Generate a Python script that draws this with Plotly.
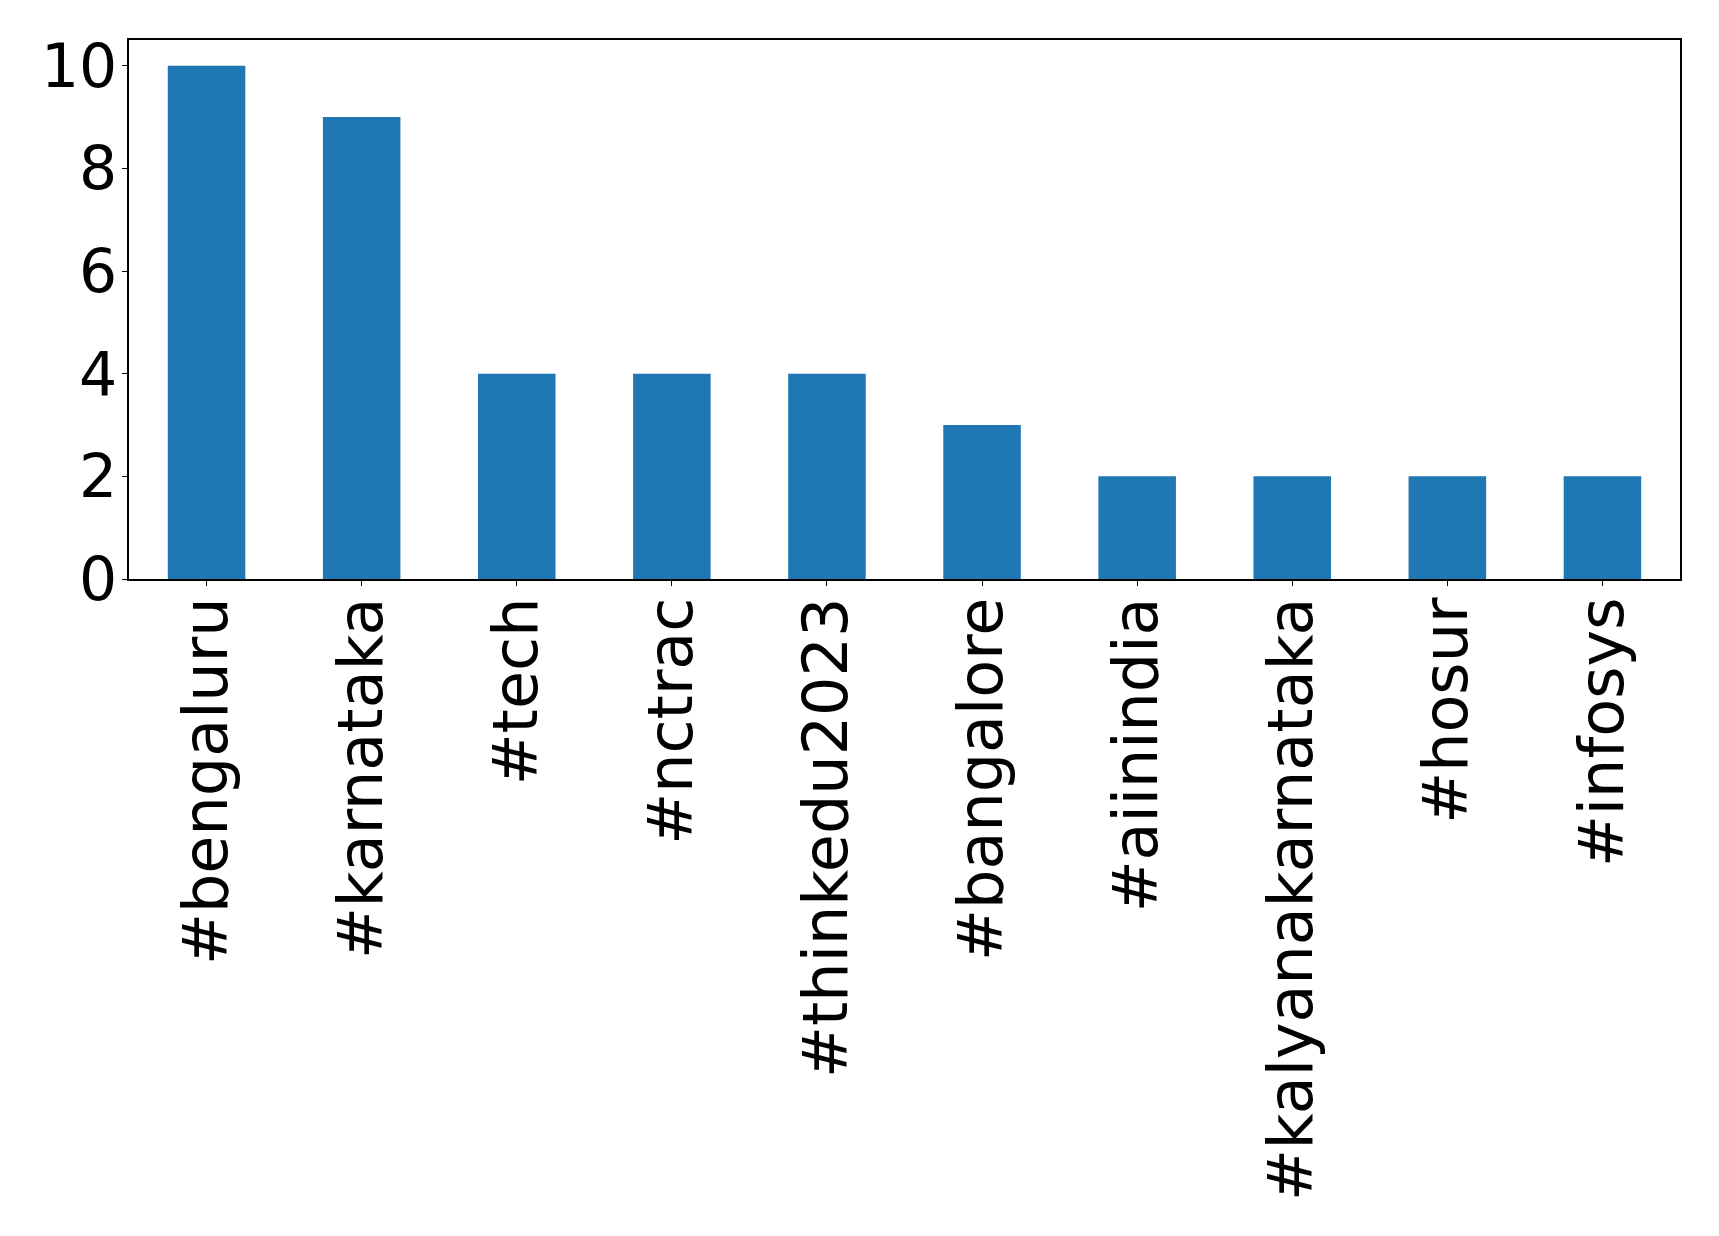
import plotly.graph_objects as go

hashtags = ["#bengaluru", "#karnataka", "#tech", "#nctrac", "#thinkedu2023",
            "#bangalore", "#aiinindia", "#kalyanakarnataka", "#hosur", "#infosys"]
counts = [10, 9, 4, 4, 4, 3, 2, 2, 2, 2]
y_ticks = [0, 2, 4, 6, 8, 10]

fig = go.Figure(go.Bar(x=hashtags, y=counts, marker_color="#1f77b4",
                       marker_line_width=0, width=0.5))

xfont = dict(family="DejaVu Sans", size=62, color="black")
yfont = dict(family="DejaVu Sans", size=60, color="black")
fig.update_layout(
    width=1703, height=1220, autosize=False,
    margin=dict(l=121, r=31, t=32, b=649),
    paper_bgcolor="white", plot_bgcolor="white",
    font=xfont, showlegend=False, bargap=0.5,
)
fig.update_xaxes(range=[-0.5, len(hashtags) - 0.5], tickangle=-90,
                 showline=True, mirror=True, linecolor="black", linewidth=1.5,
                 ticks="outside", ticklen=5, tickwidth=1.2, tickcolor="black",
                 showgrid=False, zeroline=False, tickfont=xfont,
                 ticklabelstandoff=-13)
fig.update_yaxes(range=[0, 10.5], tickvals=y_ticks,
                 showline=True, mirror=True, linecolor="black", linewidth=1.5,
                 ticks="outside", ticklen=5, tickwidth=1.2, tickcolor="black",
                 showgrid=False, zeroline=False, tickfont=yfont,
                 ticklabelstandoff=-7)

fig.write_html("out.html")
